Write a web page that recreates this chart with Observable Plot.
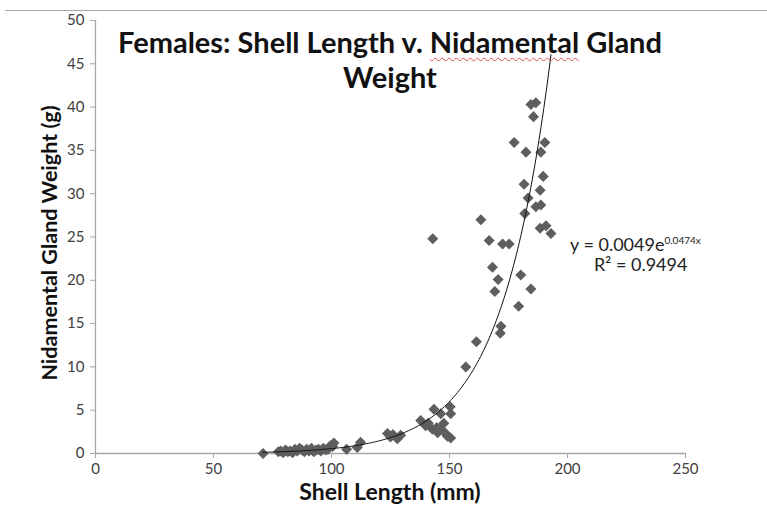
<!DOCTYPE html>
<html>
<head>
<meta charset="utf-8">
<script src="https://cdn.jsdelivr.net/npm/d3@7"></script>
<script src="https://cdn.jsdelivr.net/npm/@observablehq/plot@0.6"></script>
<style>
  body { margin: 0; background: #fff; }
  #wrap { position: relative; width: 767px; height: 507px; overflow: hidden; font-family: Lato, "Open Sans", sans-serif; }
  #wrap svg { position: absolute; left: 0; top: 0; }
  .topline { position: absolute; left: 5px; right: 0; top: 10px; height: 0; border-top: 1.5px solid #a6a6a6; }
  .title { position: absolute; left: 0; width: 780px; text-align: center; font-weight: bold; font-size: 29px; color: #111; line-height: 36px; }
  .ylab { position: absolute; left: 49px; top: 243px; transform: translate(-50%, -50%) rotate(-90deg); white-space: nowrap; font-weight: bold; font-size: 21.5px; color: #111; }
  .xlab { position: absolute; left: 390px; top: 491px; transform: translate(-50%, -50%); white-space: nowrap; font-weight: bold; font-size: 23px; color: #111; }
  .eq { position: absolute; font-size: 18px; color: #222; white-space: nowrap; line-height: 22px; }
  .eq sup { font-size: 10px; vertical-align: 7px; }
  .nid { text-decoration: underline wavy #e05050; text-decoration-thickness: 1px; text-underline-offset: 4px; }
</style>
</head>
<body>
<div id="wrap"></div>
<script>
// Shell length (mm) and nidamental gland weight (g)
const shellLength = [
  71.0, 77.5, 78.5, 79.5, 80.5, 81.5, 82.5, 83.5, 84.5, 85.5, 86.5, 87.5, 88.5, 89.5,
  90.5, 91.5, 92.5, 93.5, 94.5, 95.5, 96.5, 97.5, 98.5, 99.5,
  100.5, 101.0, 106.4, 110.9, 112.3,
  123.7, 125.0, 126.0, 127.9, 129.3,
  137.8, 139.9, 141.0,
  142.8, 143.4, 144.6, 145.0, 146.3, 146.3, 147.6, 148.4, 149.1, 150.3, 150.5, 150.5,
  142.9, 156.9, 161.4, 163.3, 166.8, 168.2, 169.2, 170.6, 171.5, 171.8, 172.5, 175.3,
  177.4, 179.3, 180.2, 181.6, 181.9, 182.4, 183.3, 184.5, 184.5, 185.6, 186.6, 186.6,
  188.4, 188.4, 188.7, 188.7, 189.7, 190.4, 190.9, 193.0
];
const glandWeight = [
  0.0, 0.2, 0.3, 0.1, 0.4, 0.2, 0.3, 0.1, 0.5, 0.3, 0.6, 0.4, 0.2, 0.5,
  0.3, 0.6, 0.2, 0.4, 0.5, 0.3, 0.6, 0.4, 0.5, 0.9,
  0.8, 1.2, 0.5, 0.7, 1.3,
  2.3, 1.9, 2.2, 1.7, 2.1,
  3.8, 3.2, 3.5,
  2.8, 5.1, 3.0, 2.4, 4.6, 2.9, 3.5, 2.3, 2.0, 5.4, 4.6, 1.8,
  24.8, 10.0, 12.9, 27.0, 24.6, 21.5, 18.7, 20.1, 13.9, 14.7, 24.2, 24.2,
  35.9, 17.0, 20.6, 31.1, 27.7, 34.8, 29.5, 40.3, 19.0, 38.9, 40.5, 28.5,
  30.4, 26.0, 34.8, 28.7, 32.0, 35.9, 26.3, 25.4
];
const xTicks = [0, 50, 100, 150, 200, 250];
const yTicks = [0, 5, 10, 15, 20, 25, 30, 35, 40, 45, 50];
// Exponential trendline reported on the chart: y = a * e^(b x)
const trendA = 0.0049;
const trendB = 0.0474;
const rSquared = 0.9494;

const points = shellLength.map((x, i) => ({x, y: glandWeight[i]}));
const xMin = d3.min(shellLength), xMax = d3.max(shellLength);
const trend = d3.range(0, 201).map(i => {
  const x = xMin + (xMax - xMin) * i / 200;
  return {x, y: trendA * Math.exp(trendB * x)};
});

const axisColor = "#a6a6a6";
const chart = Plot.plot({
  width: 767,
  height: 507,
  marginLeft: 95,
  marginRight: 82,
  marginTop: 20,
  marginBottom: 54,
  style: {background: "transparent", fontFamily: "Lato, 'Open Sans', sans-serif", overflow: "visible"},
  x: {domain: [0, 250]},
  y: {domain: [0, 50]},
  marks: [
    Plot.axisX({ticks: xTicks, tickSize: 5, tickPadding: 5, stroke: axisColor, fill: "#404040", fontSize: 15, label: null}),
    Plot.axisY({ticks: yTicks, tickSize: 5, tickPadding: 6, stroke: axisColor, fill: "#404040", fontSize: 15, label: null}),
    Plot.ruleY([0], {stroke: axisColor, strokeWidth: 1.3}),
    Plot.ruleX([0], {stroke: axisColor, strokeWidth: 1.3}),
    Plot.dot(points, {x: "x", y: "y", symbol: "square", r: 4.4, rotate: 45, fill: "#5e5e5e", stroke: "none"}),
    Plot.line(trend, {x: "x", y: "y", stroke: "#111", strokeWidth: 1, clip: true})
  ]
});

const wrap = document.getElementById("wrap");
wrap.appendChild(chart);
wrap.insertAdjacentHTML("beforeend", `
  <div class="topline"></div>
  <div class="title" style="top:24px">Females: Shell Length v. <span class="nid">Nidamental</span> Gland</div>
  <div class="title" style="top:59px">Weight</div>
  <div class="ylab">Nidamental Gland Weight (g)</div>
  <div class="xlab">Shell Length (mm)</div>
  <div class="eq" style="left:570px; top:229px">y = ${trendA}e<sup>${trendB}x</sup></div>
  <div class="eq" style="left:594px; top:253px">R² = ${rSquared}</div>
`);
</script>
</body>
</html>
